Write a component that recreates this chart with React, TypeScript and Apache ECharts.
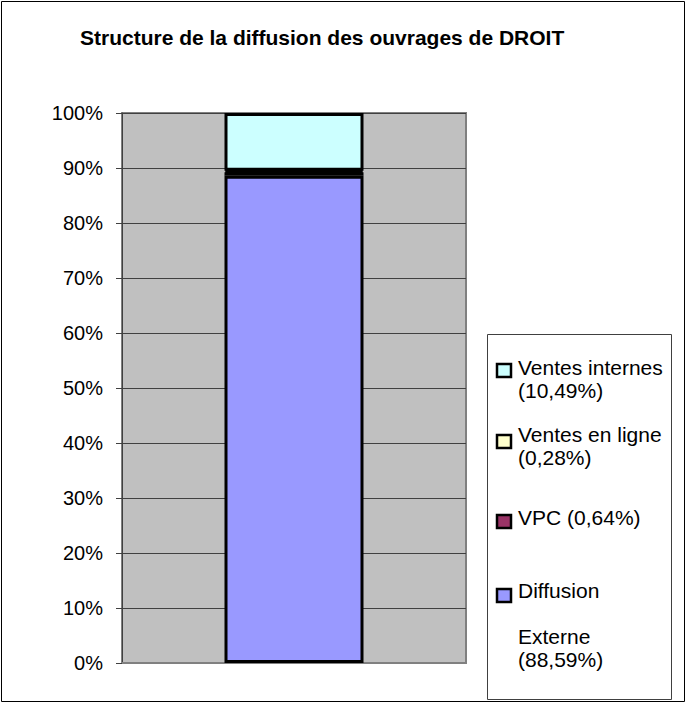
import React, { useEffect, useRef } from "react";
import * as echarts from "echarts";

const titleText = "Structure de la diffusion des ouvrages de DROIT";
const categories = ["DROIT"];
// stacked from bottom to top
const seriesNames = ["Diffusion Externe", "VPC", "Ventes en ligne", "Ventes internes"];
const seriesValues = [88.59, 0.64, 0.28, 10.49];
const seriesColors = ["#9999FF", "#993366", "#FFFFCC", "#CCFFFF"];
// legend (top to bottom) labels
const legendLabels = [
  "Ventes internes\n(10,49%)",
  "Ventes en ligne\n(0,28%)",
  "VPC (0,64%)",
  "Diffusion\n\nExterne\n(88,59%)",
];
const legendSeriesIndex = [3, 2, 1, 0];
const yMin = 0;
const yMax = 100;
const yInterval = 10;

const FONT = "'Liberation Sans', Arial, sans-serif";

export default function App() {
  const ref = useRef<HTMLDivElement>(null);
  useEffect(() => {
    if (!ref.current) return;
    const chart = echarts.init(ref.current, undefined, { renderer: "svg" });
    const squareY = [364, 435, 515, 589];
    const textY = [356, 423, 506, 579];
    const legendGraphics: any[] = [];
    legendLabels.forEach((label, i) => {
      const si = legendSeriesIndex[i];
      legendGraphics.push({
        type: "rect",
        shape: { x: 497, y: squareY[i], width: 14, height: 13 },
        style: { fill: seriesColors[si], stroke: "#000", lineWidth: 2.5 },
      });
      legendGraphics.push({
        type: "text",
        x: 518,
        y: textY[i],
        style: {
          text: label,
          font: `21px ${FONT}`,
          fill: "#000",
          lineHeight: 23,
          verticalAlign: "top",
          align: "left",
        },
      });
    });
    chart.setOption({
      animation: false,
      backgroundColor: "#fff",
      title: {
        text: titleText,
        left: 75,
        top: 22,
        textStyle: { fontFamily: FONT, fontSize: 21, fontWeight: "bold", color: "#000" },
      },
      grid: {
        left: 122,
        top: 113,
        right: 220,
        bottom: 41,
        show: true,
        backgroundColor: "#C0C0C0",
        borderColor: "#808080",
        borderWidth: 2,
        containLabel: false,
      },
      xAxis: {
        type: "category",
        data: categories,
        axisLine: { show: true, lineStyle: { color: "#808080", width: 2 } },
        axisTick: { show: false },
        axisLabel: { show: false },
        splitLine: { show: false },
      },
      yAxis: {
        type: "value",
        min: yMin,
        max: yMax,
        interval: yInterval,
        axisLine: { show: true, lineStyle: { color: "#404040", width: 1 } },
        axisTick: { show: true, inside: false, length: 6, lineStyle: { color: "#404040" } },
        axisLabel: {
          formatter: (v: number) => `${v}%`,
          fontFamily: FONT,
          fontSize: 20,
          color: "#000",
          margin: 19,
        },
        splitLine: { show: true, lineStyle: { color: "#404040", width: 1 } },
      },
      series: seriesNames.map((name, i) => ({
        name,
        type: "bar",
        stack: "total",
        barWidth: 139,
        data: [seriesValues[i]],
        itemStyle: { color: seriesColors[i], borderColor: "#000", borderWidth: 3 },
      })),
      graphic: [
        {
          type: "rect",
          shape: { x: 1.5, y: 1.5, width: 683, height: 700 },
          style: { fill: "none", stroke: "#000", lineWidth: 1 },
          z: 100,
        },
        {
          type: "rect",
          shape: { x: 487.5, y: 334.5, width: 184, height: 365 },
          style: { fill: "#fff", stroke: "#404040", lineWidth: 1 },
        },
        ...legendGraphics,
      ],
    });
    return () => chart.dispose();
  }, []);
  return (
    <div
      ref={ref}
      style={{ position: "absolute", left: 0, top: 0, width: 686, height: 704 }}
    />
  );
}
